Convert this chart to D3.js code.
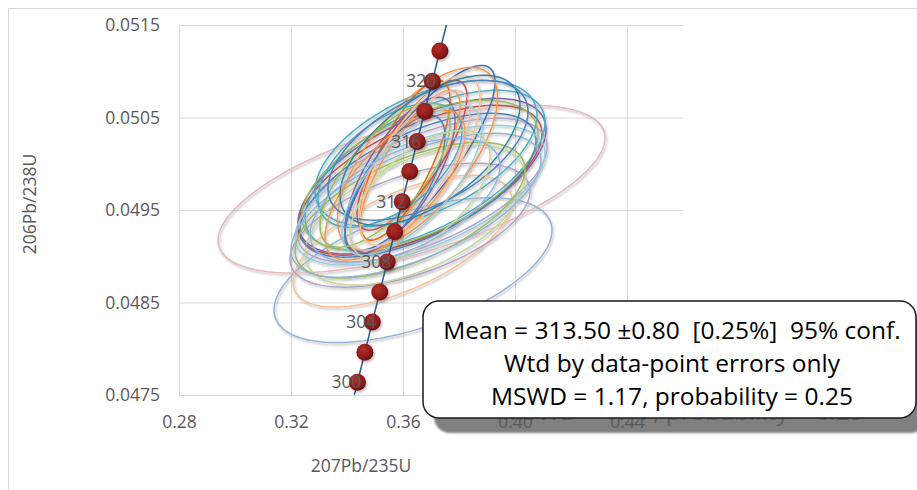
<!DOCTYPE html>
<html>
<head>
<meta charset="utf-8">
<script src="https://cdn.jsdelivr.net/npm/d3@7"></script>
<style>
  body { margin: 0; background: #fff; }
  svg { display: block; }
  text { font-family: "Open Sans", sans-serif; }
</style>
</head>
<body>
<svg id="chart" width="917" height="490"></svg>
<script>
// concordia curve (age in Ma, 207Pb/235U, 206Pb/238U)
const concordiaAge = [296, 298, 300, 302, 304, 306, 308, 310, 312, 314, 316, 318, 320, 322, 324, 326];
const concordia207 = [0.338456, 0.341094, 0.343737, 0.346386, 0.349041, 0.351701, 0.354366, 0.357036,
                      0.359712, 0.362393, 0.365079, 0.367770, 0.370467, 0.373169, 0.375876, 0.378589];
const concordia206 = [0.046987, 0.047312, 0.047637, 0.047962, 0.048288, 0.048613, 0.048938, 0.049264,
                      0.049589, 0.049915, 0.050241, 0.050567, 0.050893, 0.051219, 0.051545, 0.051871];
const markerAges = [300, 302, 304, 306, 308, 310, 312, 314, 316, 318, 320, 322];
const labelAges = [300, 304, 308, 312, 316, 320];

const xTicks = [0.28, 0.32, 0.36, 0.40, 0.44];
const yTicks = [0.0475, 0.0485, 0.0495, 0.0505, 0.0515];

// error ellipses: centre, 2 sigma errors and error correlation
const ell207 = [0.36304, 0.36357, 0.35982, 0.36679, 0.36607, 0.36679, 0.36250, 0.36821,
                0.36786, 0.36607, 0.36429, 0.36536, 0.36607, 0.36250, 0.36464, 0.36607,
                0.36518, 0.36250, 0.36071, 0.36321, 0.35893, 0.35714, 0.35536, 0.35357,
                0.35714, 0.36250, 0.36607, 0.36964, 0.36893, 0.36321, 0.36607, 0.36071];
const ell206 = [0.049725, 0.048850, 0.049163, 0.049865, 0.049822, 0.049714, 0.049336, 0.050113,
                0.049930, 0.049876, 0.049444, 0.049768, 0.049660, 0.049498, 0.049552, 0.050059,
                0.050054, 0.049984, 0.050038, 0.050092, 0.049876, 0.049768, 0.049984, 0.049876,
                0.049768, 0.049930, 0.050038, 0.050146, 0.050146, 0.049822, 0.049660, 0.049606];
const err207 = [0.06911, 0.04964, 0.03911, 0.04429, 0.04357, 0.04464, 0.04286, 0.03964,
                0.04286, 0.04214, 0.03929, 0.04214, 0.04464, 0.04107, 0.04464, 0.02679,
                0.02857, 0.01786, 0.01607, 0.01964, 0.01964, 0.01786, 0.02571, 0.02321,
                0.02500, 0.02143, 0.02143, 0.03214, 0.03571, 0.02500, 0.02500, 0.03393];
const err206 = [0.000907, 0.000783, 0.000713, 0.000842, 0.000810, 0.000778, 0.000670, 0.000788,
                0.000864, 0.000810, 0.000756, 0.000778, 0.000756, 0.000734, 0.000778, 0.001004,
                0.000988, 0.000810, 0.000864, 0.000810, 0.000842, 0.000756, 0.000670, 0.000778,
                0.000810, 0.000864, 0.000918, 0.000810, 0.000756, 0.000810, 0.000702, 0.000670];
const rho = [0.61, 0.55, 0.62, 0.60, 0.62, 0.60, 0.55, 0.52,
             0.60, 0.55, 0.55, 0.62, 0.60, 0.60, 0.62, 0.82,
             0.67, 0.80, 0.75, 0.78, 0.70, 0.70, 0.55, 0.70,
             0.70, 0.75, 0.72, 0.60, 0.55, 0.70, 0.60, 0.55];
const ellColor = ["#E6B9B8", "#95B3D7", "#FAC090", "#8064A2", "#C0504D", "#B3A2C7", "#B3A2C7", "#4BACC6",
                  "#4BACC6", "#9BBB59", "#C3D69B", "#4F81BD", "#93CDDD", "#9BBB59", "#95B3D7", "#3F6FB0",
                  "#F79646", "#F79646", "#E46C0A", "#C0504D", "#8064A2", "#4F81BD", "#4BACC6", "#9BBB59",
                  "#F79646", "#E6B9B8", "#FAC090", "#31859C", "#4F81BD", "#93CDDD", "#C3D69B", "#8EB4E3"];

const boxLines = ["Mean = 313.50 \u00b10.80  [0.25%]  95% conf.",
                  "Wtd by data-point errors only",
                  "MSWD = 1.17, probability = 0.25"];

const plot = { left: 179, right: 683, top: 25, bottom: 395 };

var svg = d3.select("#chart");

var x = d3.scaleLinear().domain([0.28, 0.46]).range([plot.left, plot.right]);
var y = d3.scaleLinear().domain([0.0475, 0.0515]).range([plot.bottom, plot.top]);

var defs = svg.append("defs");
defs.append("clipPath").attr("id", "plotClip")
  .append("rect")
  .attr("x", plot.left).attr("y", plot.top)
  .attr("width", plot.right - plot.left).attr("height", plot.bottom - plot.top);

var sh = defs.append("filter").attr("id", "soft")
  .attr("x", "-10%").attr("y", "-10%").attr("width", "120%").attr("height", "120%");
sh.append("feDropShadow").attr("dx", 1.2).attr("dy", 1.8).attr("stdDeviation", 1.3)
  .attr("flood-color", "#000").attr("flood-opacity", 0.28);

var boxBlur = defs.append("filter").attr("id", "boxBlur")
  .attr("x", "-5%").attr("y", "-20%").attr("width", "110%").attr("height", "140%");
boxBlur.append("feGaussianBlur").attr("stdDeviation", 1.2);

var grad = defs.append("radialGradient").attr("id", "dotGrad")
  .attr("cx", "40%").attr("cy", "35%").attr("r", "65%");
grad.append("stop").attr("offset", "0%").attr("stop-color", "#B2302C");
grad.append("stop").attr("offset", "70%").attr("stop-color", "#8E1B1B");
grad.append("stop").attr("offset", "100%").attr("stop-color", "#6A1010");

// chart border
svg.append("rect")
  .attr("x", 8.5).attr("y", 8.5).attr("width", 940).attr("height", 500)
  .attr("fill", "none").attr("stroke", "#d9d9d9");

// gridlines
svg.append("g")
  .attr("transform", "translate(0," + plot.bottom + ")")
  .call(d3.axisBottom(x).tickValues(xTicks).tickSize(-(plot.bottom - plot.top)).tickFormat(""))
  .call(g => g.select(".domain").remove())
  .selectAll("line").attr("stroke", "#d9d9d9");

svg.append("g")
  .attr("transform", "translate(" + plot.left + ",0)")
  .call(d3.axisLeft(y).tickValues(yTicks).tickSize(-(plot.right - plot.left)).tickFormat(""))
  .call(g => g.select(".domain").remove())
  .selectAll("line").attr("stroke", "#d9d9d9");

// error ellipses
var ellipseLine = d3.line().x(d => x(d[0])).y(d => y(d[1]));
var ellipses = ell207.map(function (cx, i) {
  var pts = [];
  var r = rho[i], k = Math.sqrt(1 - r * r);
  for (var s = 0; s <= 120; s++) {
    var t = s / 120 * 2 * Math.PI;
    pts.push([cx + err207[i] * Math.cos(t),
              ell206[i] + err206[i] * (r * Math.cos(t) + k * Math.sin(t))]);
  }
  return { pts: pts, color: ellColor[i] };
});

svg.append("g")
  .attr("clip-path", "url(#plotClip)")
  .append("g")
  .attr("filter", "url(#soft)")
  .selectAll("path")
  .data(ellipses)
  .enter()
  .append("path")
  .attr("d", d => ellipseLine(d.pts))
  .attr("fill", "none")
  .attr("stroke", d => d.color)
  .attr("stroke-width", 1.5);

// concordia
var concordia = concordiaAge.map((a, i) => ({ age: a, x: concordia207[i], y: concordia206[i] }));

svg.append("path")
  .datum(concordia)
  .attr("clip-path", "url(#plotClip)")
  .attr("d", d3.line().x(d => x(d.x)).y(d => y(d.y)).curve(d3.curveMonotoneY))
  .attr("fill", "none")
  .attr("stroke", "#2B5896")
  .attr("stroke-width", 1.5);

var markers = concordia.filter(d => markerAges.indexOf(d.age) >= 0);
svg.append("g")
  .attr("filter", "url(#soft)")
  .selectAll("circle")
  .data(markers)
  .enter()
  .append("circle")
  .attr("cx", d => x(d.x))
  .attr("cy", d => y(d.y))
  .attr("r", 8.5)
  .attr("fill", "url(#dotGrad)");

svg.append("g")
  .selectAll("text")
  .data(concordia.filter(d => labelAges.indexOf(d.age) >= 0))
  .enter()
  .append("text")
  .attr("x", d => x(d.x) + 4)
  .attr("y", d => y(d.y))
  .attr("dy", "0.35em")
  .attr("text-anchor", "end")
  .attr("font-size", 17.5)
  .attr("fill", "#595959")
  .text(d => d.age);

// text box shadow (sits under the tick labels)
var box = { x: 423, y: 301, w: 493, h: 117, r: 16 };
var shadow = svg.append("g").attr("transform", "translate(11,15)");
shadow.append("rect")
  .attr("x", box.x).attr("y", box.y).attr("width", box.w).attr("height", box.h)
  .attr("rx", box.r).attr("fill", "#808080").attr("filter", "url(#boxBlur)");
shadow.append("text")
  .attr("x", 672).attr("y", 405)
  .attr("text-anchor", "middle")
  .attr("font-family", "'Liberation Sans', Arial, sans-serif")
  .attr("font-size", 24.5)
  .attr("fill", "#5f5f5f")
  .text(boxLines[2]);

// axes labels
svg.append("g")
  .attr("transform", "translate(0," + plot.bottom + ")")
  .call(d3.axisBottom(x).tickValues(xTicks).tickSize(0).tickPadding(21).tickFormat(d3.format(".2f")))
  .call(g => g.select(".domain").remove())
  .selectAll("text")
  .attr("font-family", "'Open Sans', sans-serif")
  .attr("font-size", 17.5)
  .attr("fill", "#595959");

svg.append("g")
  .attr("transform", "translate(" + plot.left + ",0)")
  .call(d3.axisLeft(y).tickValues(yTicks).tickSize(0).tickPadding(19).tickFormat(d3.format(".4f")))
  .call(g => g.select(".domain").remove())
  .selectAll("text")
  .attr("font-family", "'Open Sans', sans-serif")
  .attr("font-size", 17.5)
  .attr("fill", "#595959");

svg.append("text")
  .attr("x", 361).attr("y", 472)
  .attr("text-anchor", "middle")
  .attr("font-size", 17.5)
  .attr("fill", "#595959")
  .text("207Pb/235U");

svg.append("text")
  .attr("transform", "translate(36,204) rotate(-90)")
  .attr("text-anchor", "middle")
  .attr("font-size", 17.5)
  .attr("fill", "#595959")
  .text("206Pb/238U");

// text box
svg.append("rect")
  .attr("x", box.x).attr("y", box.y).attr("width", box.w).attr("height", box.h)
  .attr("rx", box.r)
  .attr("fill", "#fff")
  .attr("stroke", "#1a1a1a")
  .attr("stroke-width", 1.5);

svg.append("g")
  .selectAll("text")
  .data(boxLines)
  .enter()
  .append("text")
  .attr("x", 672)
  .attr("y", (d, i) => 339 + i * 33)
  .attr("text-anchor", "middle")
  .attr("font-family", "'Liberation Sans', Arial, sans-serif")
  .attr("font-size", 24.5)
  .attr("fill", "#000")
  .style("white-space", "pre")
  .text(d => d);
</script>
</body>
</html>
